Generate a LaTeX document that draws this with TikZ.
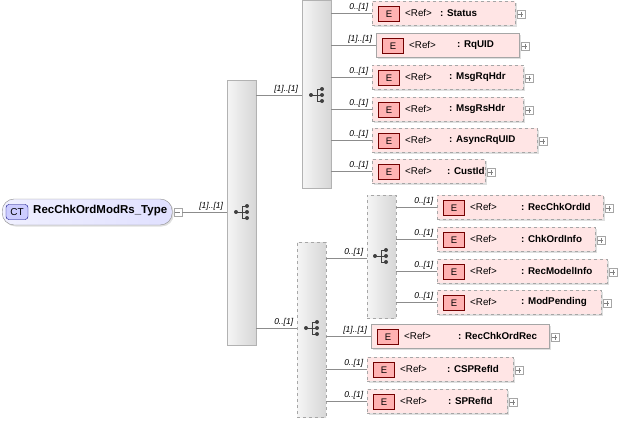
\documentclass[tikz,border=0pt]{standalone}
\usepackage{fontspec}
\setmainfont{Liberation Sans}
\usetikzlibrary{shadows}
\begin{document}
\begin{tikzpicture}[x=1pt,y=-1pt,
  seqbox/.style={draw=black!30,left color=black!4,right color=black!16,inner sep=0,anchor=north west},
  dsh/.style={dashed,draw=black!35},
  elbox/.style={draw=black!35,fill=red!10,inner sep=0,anchor=west,minimum height=24,drop shadow={opacity=0.25,shadow xshift=1.5pt,shadow yshift=-1.5pt}},
  ebadge/.style={draw=red!45!black,fill=red!30,minimum width=21,minimum height=15,inner sep=0,font=\fontsize{9.5}{9.5}\selectfont},
  mult/.style={font=\fontsize{8.5}{8.5}\selectfont\itshape,anchor=south east,inner sep=1.5},
  conn/.style={draw=black!45,line width=0.6},
  plusb/.style={draw=black!35,fill=white,minimum size=8,inner sep=0}]
\useasboundingbox (0,0) rectangle (618,423);
\newcommand\seqicon[2]{%
  \begin{scope}[shift={(#1,#2)},black!75,line width=0.7]
    \fill (-7,0) circle (2); \draw (-7,0)--(-1,0); \draw (-1,-6)--(-1,6);
    \draw (-1,-6)--(4,-6) (-1,0)--(4,0) (-1,6)--(4,6);
    \fill (4,-6) circle (2) (4,0) circle (2) (4,6) circle (2);
  \end{scope}}
% el: name, xleft, xright, yc, extra style, label, name offset
\newcommand\elem[7]{%
  \node[elbox,#5,minimum width={#3-#2}] (#1) at (#2,#4) {};
  \node[ebadge] (#1b) at (#2+17,#4+1) {E};
  \node[anchor=west,inner sep=0,font=\fontsize{9.8}{11}\selectfont] (#1r) at (#2+33,#4) {<Ref>};
  \node[anchor=west,inner sep=0,font=\fontsize{9.8}{11}\selectfont\bfseries] (#1n) at (#2+#7,#4) {: #6};
  \node[plusb] (#1p) at (#3+6,#4+1) {};
  \draw[black!50,line width=0.4] (#1p.west)++(1.5,0)--++(5,0) (#1p.center)++(0,-2.5)--++(0,5);}
% root
\node[draw=black!45,rounded corners=12,left color=blue!6,right color=blue!12,minimum width=170,minimum height=26,inner sep=0,anchor=west,drop shadow={opacity=0.25,shadow xshift=1.5pt,shadow yshift=-1.5pt}] (root) at (2,212) {};
\node[draw=blue!50!black,fill=blue!20,rounded corners=3,minimum width=22,minimum height=15,inner sep=0,font=\fontsize{10}{10}\selectfont] (ct) at (17,212) {CT};
\node[anchor=west,inner sep=0,font=\fontsize{11.5}{12}\selectfont\bfseries] (rootl) at (33,211) {RecChkOrdModRs\_Type};
\node[plusb] (rootm) at (178,212) {};
\draw[black!50,line width=0.4] (rootm.west)++(1.5,0)--++(5,0);
% sequences
\node[seqbox,minimum width=29,minimum height=265] (s1) at (227,80) {};
\seqicon{243}{212}
\node[seqbox,minimum width=29,minimum height=188] (s2) at (302,0) {};
\seqicon{318}{95}
\node[seqbox,dsh,minimum width=29,minimum height=175] (s3) at (297,242) {};
\seqicon{313}{328}
\node[seqbox,dsh,minimum width=29,minimum height=123] (s4) at (367,195) {};
\seqicon{382}{256}
\draw[conn] (rootm.east)--(s1.west|-rootm) node[mult,pos=0.95]{[1]..[1]};
\draw[conn] (s1.east|-0,95)--(s2.west|-0,95) node[mult,pos=0.95]{[1]..[1]};
\draw[conn] (s1.east|-0,328)--(s3.west|-0,328) node[mult,pos=0.95]{0..[1]};
\draw[conn] (s3.east|-0,258)--(s4.west|-0,258) node[mult,pos=0.95]{0..[1]};
% elements
\elem{st}{372}{515}{13}{dsh}{Status}{68}
\elem{rq}{376}{519}{45}{}{RqUID}{81}
\elem{mrq}{372}{523}{77}{dsh}{MsgRqHdr}{77}
\elem{mrs}{372}{523}{109}{dsh}{MsgRsHdr}{77}
\elem{asy}{372}{537}{140}{dsh}{AsyncRqUID}{77}
\elem{cid}{372}{485}{171}{dsh}{CustId}{75}
\elem{rci}{437}{603}{207}{dsh}{RecChkOrdId}{84}
\elem{coi}{437}{595}{239}{dsh}{ChkOrdInfo}{84}
\elem{rmi}{437}{607}{271}{dsh}{RecModelInfo}{84}
\elem{mp}{437}{601}{302}{dsh}{ModPending}{84}
\elem{rcr}{371}{549}{336}{}{RecChkOrdRec}{87}
\elem{csp}{367}{513}{369}{dsh}{CSPRefId}{80}
\elem{sp}{367}{507}{401}{dsh}{SPRefId}{81}
\foreach \e/\m in {st/0..[1],rq/[1]..[1],mrq/0..[1],mrs/0..[1],asy/0..[1],cid/0..[1]}
  \draw[conn] (s2.east|-\e.west)--(\e.west) node[mult,pos=0.95]{\m};
\foreach \e/\m in {rci/0..[1],coi/0..[1],rmi/0..[1],mp/0..[1]}
  \draw[conn] (s4.east|-\e.west)--(\e.west) node[mult,pos=0.95]{\m};
\foreach \e/\m in {rcr/[1]..[1],csp/0..[1],sp/0..[1]}
  \draw[conn] (s3.east|-\e.west)--(\e.west) node[mult,pos=0.95]{\m};
\end{tikzpicture}
\end{document}
